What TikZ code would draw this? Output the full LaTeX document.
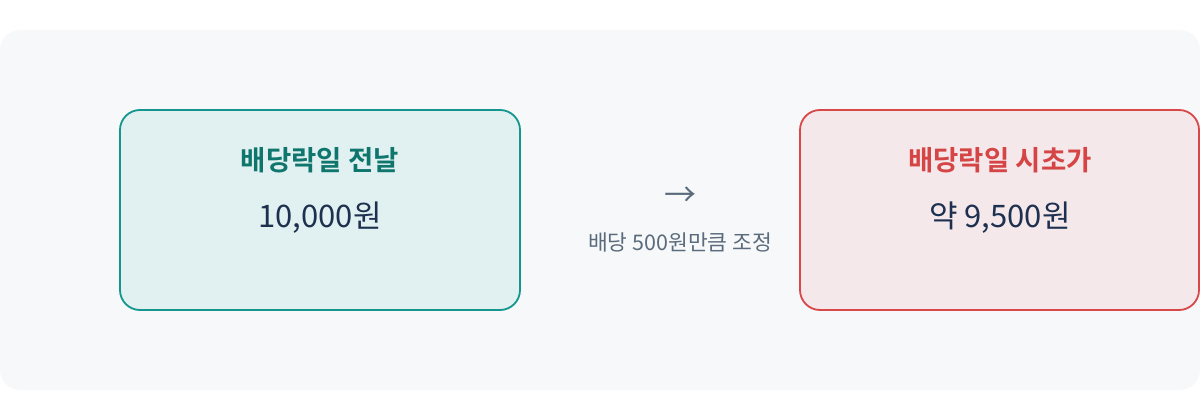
\documentclass[tikz,border=0pt]{standalone}
\usepackage{fontspec}
\setmainfont{Noto Sans CJK KR}
\newfontfamily\krbold{Noto Sans CJK KR Bold}
\definecolor{panelbg}{HTML}{F7F8FA}
\definecolor{tealline}{HTML}{14968F}
\definecolor{tealfill}{HTML}{E1F0F0}
\definecolor{tealtext}{HTML}{0F766E}
\definecolor{redline}{HTML}{D94848}
\definecolor{redfill}{HTML}{F4E8EA}
\definecolor{redtext}{HTML}{D64545}
\definecolor{valtext}{HTML}{1E3050}
\definecolor{captext}{HTML}{5A6B7B}
\tikzset{
  card/.style={rounded corners=20pt, line width=1.8pt},
  ttl/.style={font=\krbold\fontsize{27.5}{32}\selectfont, anchor=center, inner sep=0pt},
  val/.style={font=\fontsize{31}{36}\selectfont, text=valtext, anchor=center, inner sep=0pt},
  captionlbl/.style={font=\fontsize{21.5}{26}\selectfont, text=captext, anchor=center, inner sep=0pt},
}
\begin{document}
\begin{tikzpicture}[x=1pt,y=-1pt]
\useasboundingbox (0,0) rectangle (1200,420);
\fill[panelbg, rounded corners=20pt] (0,30) rectangle (1200,390);
\draw[card, draw=tealline, fill=tealfill] (120,110) rectangle (520,310);
\draw[card, draw=redline, fill=redfill] (800,110) rectangle (1199,310);
\node[ttl, text=tealtext] (t1) at (320,160) {배당락일 전날};
\node[val] (v1) at (320,218) {10,000원};
\node[ttl, text=redtext] (t2) at (1000,160) {배당락일 시초가};
\node[val] (v2) at (1000,218) {약 9,500원};
\node[font=\fontsize{32}{36}\selectfont, text=captext, inner sep=0pt] (ar) at (680,197) {→};
\node[captionlbl] (c) at (680,242) {배당 500원만큼 조정};
\end{tikzpicture}
\end{document}
